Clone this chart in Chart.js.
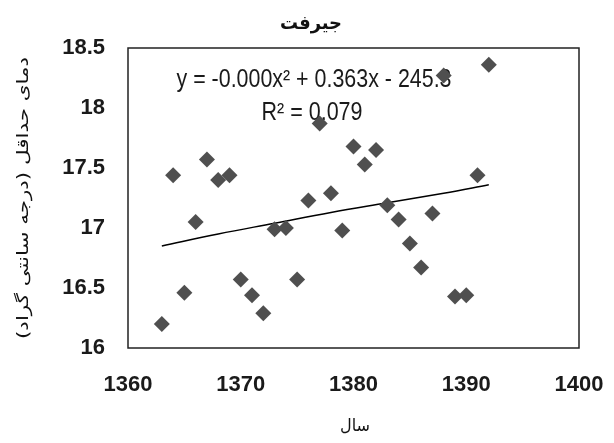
<!DOCTYPE html>
<html>
<head>
<meta charset="utf-8">
<script src="https://cdn.jsdelivr.net/npm/chart.js@4"></script>
<style>
  html, body { margin: 0; padding: 0; background: #fff; }
  #wrap { width: 614px; height: 443px; }
</style>
</head>
<body>
<div id="wrap"><canvas id="tempChart" width="614" height="443"></canvas></div>
<script>
// years (solar hijri) and minimum temperature, Jiroft
const years = [1363, 1364, 1365, 1366, 1367, 1368, 1369, 1370, 1371, 1372,
               1373, 1374, 1375, 1376, 1377, 1378, 1379, 1380, 1381, 1382,
               1383, 1384, 1385, 1386, 1387, 1388, 1389, 1390, 1391, 1392]
const minTemp = [16.20, 17.44, 16.46, 17.05, 17.57, 17.40, 17.44, 16.57, 16.44, 16.29,
                 16.99, 17.00, 16.57, 17.23, 17.87, 17.29, 16.98, 17.68, 17.53, 17.65,
                 17.19, 17.07, 16.87, 16.67, 17.12, 18.27, 16.43, 16.44, 17.44, 18.36]

// poly trendline
const trendYears = [1363, 1368, 1373, 1378, 1383, 1388, 1392]
const trendVals = [16.85, 16.95, 17.04, 17.13, 17.21, 17.29, 17.36]

const xTicks = [1360, 1370, 1380, 1390, 1400]
const yTicks = [16, 16.5, 17, 17.5, 18, 18.5]

const chartTitle = 'جیرفت'
const xTitle = 'سال'
const yTitle = 'دمای حداقل (درجه سانتی گراد)'
const eqText = 'y = -0.000x² + 0.363x - 245.3'
const r2Text = 'R² = 0.079'

const pts = years.map((y, i) => ({x: y, y: minTemp[i]}))
const trend = trendYears.map((y, i) => ({x: y, y: trendVals[i]}))

// draw text squeezed/stretched to a given width
function fitText(ctx, text, x, y, width) {
    const w = ctx.measureText(text).width
    ctx.save()
    ctx.translate(x, y)
    ctx.scale(width / w, 1)
    ctx.fillText(text, 0, 0)
    ctx.restore()
}

const decorations = {
    id: 'decorations',
    beforeDatasetsDraw(chart) {
        const ctx = chart.ctx
        const a = chart.chartArea
        ctx.save()
        // plot box
        ctx.strokeStyle = '#222'
        ctx.lineWidth = 1.5
        ctx.strokeRect(a.left, a.top, a.right - a.left, a.bottom - a.top)

        ctx.fillStyle = '#111'
        ctx.textAlign = 'center'
        ctx.textBaseline = 'alphabetic'

        // title
        ctx.font = 'bold 19px "DejaVu Sans"'
        fitText(ctx, chartTitle, 311, 29, 62)

        // x axis title
        ctx.font = '17px "DejaVu Sans"'
        fitText(ctx, xTitle, 355, 431, 30)

        // y axis title
        ctx.save()
        ctx.translate(24, (a.top + a.bottom) / 2)
        ctx.rotate(-Math.PI / 2)
        ctx.font = '16px "DejaVu Sans"'
        ctx.textBaseline = 'middle'
        fitText(ctx, yTitle, 0, 0, 282)
        ctx.restore()

        // trendline equation
        ctx.fillStyle = '#1a1a1a'
        ctx.font = '25px "Liberation Sans"'
        fitText(ctx, eqText, 314, 87, 275)
        fitText(ctx, r2Text, 312, 120, 101)
        ctx.restore()
    }
}

const ctx = document.getElementById('tempChart')
new Chart(ctx, {
    type: 'scatter',
    data: {
        datasets: [
            {
                label: 'minTemp',
                data: pts,
                pointStyle: 'rectRot',
                pointRadius: 8,
                pointHoverRadius: 8,
                pointBackgroundColor: '#4f4f4f',
                pointBorderWidth: 0,
                borderWidth: 0
            },
            {
                label: 'trend',
                data: trend,
                showLine: true,
                borderColor: '#000',
                borderWidth: 1.5,
                pointRadius: 0,
                tension: 0.4
            }
        ]
    },
    options: {
        responsive: false,
        animation: false,
        layout: { padding: { top: 48, right: 35, left: 0, bottom: 0 } },
        plugins: {
            legend: { display: false },
            title: { display: false },
            tooltip: { enabled: false }
        },
        scales: {
            x: {
                type: 'linear',
                min: 1360,
                max: 1400,
                afterBuildTicks: s => { s.ticks = xTicks.map(v => ({value: v})) },
                afterFit: s => { s.height = 95; s.paddingLeft = 0; s.paddingRight = 0 },
                grid: { display: false, drawTicks: false },
                border: { display: false },
                ticks: {
                    padding: 24,
                    color: '#1a1a1a',
                    callback: v => String(v),
                    font: { family: 'Liberation Sans', size: 22, weight: 'bold' }
                }
            },
            y: {
                min: 16,
                max: 18.5,
                afterBuildTicks: s => { s.ticks = yTicks.map(v => ({value: v})) },
                afterFit: s => { s.width = 128; s.paddingTop = 0; s.paddingBottom = 0 },
                grid: { display: false, drawTicks: false },
                border: { display: false },
                ticks: {
                    padding: 23,
                    color: '#1a1a1a',
                    callback: v => String(v),
                    font: { family: 'Liberation Sans', size: 22, weight: 'bold' }
                }
            }
        }
    },
    plugins: [decorations]
})
</script>
</body>
</html>
